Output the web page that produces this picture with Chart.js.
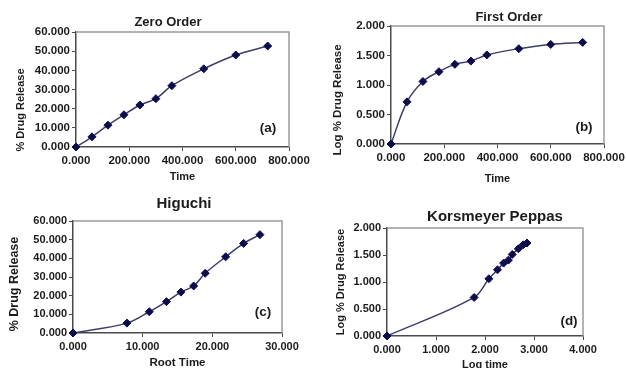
<!DOCTYPE html>
<html>
<head>
<meta charset="utf-8">
<title>Release kinetics</title>
<script src="https://cdn.jsdelivr.net/npm/chart.js@4.4.1/dist/chart.umd.min.js"></script>
<style>
  html, body { margin: 0; padding: 0; background: #fff; }
  #sheet { position: relative; width: 626px; height: 368px; overflow: hidden; background: #fff; }
  #sheet canvas { position: absolute; }
</style>
</head>
<body>
<div id="sheet">
  <canvas id="zero-chart" width="310" height="185" style="left:0;top:0"></canvas>
  <canvas id="first-chart" width="316" height="185" style="left:310px;top:0"></canvas>
  <canvas id="higuchi-chart" width="310" height="183" style="left:0;top:185px"></canvas>
  <canvas id="peppas-chart" width="316" height="183" style="left:310px;top:185px"></canvas>
</div>
<script>
// sampling times (min) and the transforms used by each model
const timeMin = [0, 60, 120, 180, 240, 300, 360, 480, 600, 720];
const rootTime = [0, 7.746, 10.954, 13.416, 15.492, 17.321, 18.974, 21.909, 24.495, 26.833];
const logTime = [0, 1.778, 2.079, 2.255, 2.380, 2.477, 2.556, 2.681, 2.778, 2.857];

// cumulative release
const drugRelease = [0, 5.3, 11.4, 16.8, 21.9, 25.2, 32.0, 40.8, 48.0, 52.7];
const logRelease = [0, 0.714, 1.060, 1.226, 1.350, 1.405, 1.510, 1.615, 1.688, 1.722];

// axis ticks
const timeTicks = [0, 200, 400, 600, 800];
const rootTicks = [0, 10, 20, 30];
const logTimeTicks = [0, 1, 2, 3, 4];
const releaseTicks = [0, 10, 20, 30, 40, 50, 60];
const logReleaseTicks = [0, 0.5, 1, 1.5, 2];

const FONT = '"Liberation Sans", Arial, sans-serif';
const INK = "#1c1c1c";
const AXIS = "#4a4a4a";
const FRAME = "#9a9a9a";

// title, y-axis title and panel letter, plus the grey top/right edge of the plot box
const panelText = {
  id: "panelText",
  beforeDatasetsDraw(chart) {
    const { ctx, chartArea: a } = chart;
    ctx.save();
    ctx.strokeStyle = FRAME;
    ctx.lineWidth = 1.5;
    ctx.beginPath();
    ctx.moveTo(a.left, a.top);
    ctx.lineTo(a.right, a.top);
    ctx.lineTo(a.right, a.bottom);
    ctx.stroke();
    ctx.restore();
  },
  afterDraw(chart, args, opts) {
    const { ctx } = chart;
    ctx.save();
    ctx.fillStyle = INK;
    ctx.textAlign = "center";
    ctx.textBaseline = "middle";

    ctx.font = `bold ${opts.titleSize}px ${FONT}`;
    ctx.fillText(opts.title, opts.titleAt[0], opts.titleAt[1]);

    ctx.font = `bold 13.5px ${FONT}`;
    ctx.fillText(opts.tag, opts.tagAt[0], opts.tagAt[1]);

    ctx.translate(opts.yTitleAt[0], opts.yTitleAt[1]);
    ctx.rotate(-Math.PI / 2);
    ctx.font = `bold ${opts.yTitleSize}px ${FONT}`;
    ctx.fillText(opts.yTitle, 0, 0);
    ctx.restore();
  },
};

function linearAxis(tickValues, tickSize, pad) {
  return {
    type: "linear",
    min: tickValues[0],
    max: tickValues[tickValues.length - 1],
    afterBuildTicks: (scale) => {
      scale.ticks = tickValues.map((value) => ({ value }));
    },
    ticks: {
      callback: (value) => value.toFixed(3),
      font: { family: FONT, size: tickSize, weight: "bold" },
      color: INK,
      padding: pad,
      maxRotation: 0,
      autoSkip: false,
    },
    grid: { drawOnChartArea: false, drawTicks: true, tickLength: 4, tickColor: AXIS },
    border: { display: true, color: AXIS, width: 1.5 },
  };
}

function buildPanel(id, p) {
  const canvas = document.getElementById(id);
  const xAxis = linearAxis(p.xTicks, p.tickSize, 3);
  xAxis.title = {
    display: true,
    text: p.xTitle,
    color: INK,
    font: { family: FONT, size: p.xTitleSize, weight: "bold" },
    padding: { top: 0, bottom: p.xTitlePad },
  };
  xAxis.afterFit = (scale) => {
    scale.height = canvas.height - p.plot.bottom;
    scale.paddingLeft = 0;
    scale.paddingRight = 0;
  };
  const yAxis = linearAxis(p.yTicks, p.tickSize, 2);
  yAxis.afterFit = (scale) => {
    scale.width = p.plot.left;
    scale.paddingTop = 0;
    scale.paddingBottom = 0;
  };

  return new Chart(canvas, {
    type: "scatter",
    data: {
      datasets: [
        {
          data: p.xs.map((x, i) => ({ x, y: p.ys[i] })),
          showLine: true,
          tension: 0.35,
          borderColor: "#3d3d6b",
          borderWidth: 1.5,
          pointStyle: "rectRot",
          pointRadius: 4,
          pointBackgroundColor: "#0d0d4d",
          pointBorderColor: "#0d0d4d",
          pointBorderWidth: 1,
          clip: false,
        },
      ],
    },
    options: {
      responsive: false,
      animation: false,
      events: [],
      layout: {
        padding: { left: 0, top: p.plot.top, right: canvas.width - p.plot.right, bottom: 0 },
      },
      scales: { x: xAxis, y: yAxis },
      plugins: {
        legend: { display: false },
        tooltip: { enabled: false },
        panelText: p.text,
      },
    },
    plugins: [panelText],
  });
}

buildPanel("zero-chart", {
  xs: timeMin,
  ys: drugRelease,
  xTicks: timeTicks,
  yTicks: releaseTicks,
  tickSize: 11.5,
  xTitle: "Time",
  xTitleSize: 11,
  xTitlePad: 1.5,
  plot: { left: 76, right: 289, top: 32, bottom: 147 },
  text: {
    title: "Zero Order", titleSize: 13, titleAt: [168, 22],
    yTitle: "% Drug Release", yTitleSize: 11, yTitleAt: [21, 110],
    tag: "(a)", tagAt: [268, 128],
  },
});

buildPanel("first-chart", {
  xs: timeMin,
  ys: logRelease,
  xTicks: timeTicks,
  yTicks: logReleaseTicks,
  tickSize: 11.5,
  xTitle: "Time",
  xTitleSize: 11,
  xTitlePad: -0.5,
  plot: { left: 81, right: 294, top: 26, bottom: 144 },
  text: {
    title: "First Order", titleSize: 13, titleAt: [199, 17],
    yTitle: "Log % Drug Release", yTitleSize: 11.5, yTitleAt: [28, 100],
    tag: "(b)", tagAt: [274, 127],
  },
});

buildPanel("higuchi-chart", {
  xs: rootTime,
  ys: drugRelease,
  xTicks: rootTicks,
  yTicks: releaseTicks,
  tickSize: 11,
  xTitle: "Root Time",
  xTitleSize: 11.5,
  xTitlePad: -1.5,
  plot: { left: 73, right: 282, top: 36, bottom: 148 },
  text: {
    title: "Higuchi", titleSize: 15, titleAt: [184, 19],
    yTitle: "% Drug Release", yTitleSize: 12.5, yTitleAt: [15, 99],
    tag: "(c)", tagAt: [263, 127],
  },
});

buildPanel("peppas-chart", {
  xs: logTime,
  ys: logRelease,
  xTicks: logTimeTicks,
  yTicks: logReleaseTicks,
  tickSize: 11,
  xTitle: "Log time",
  xTitleSize: 11,
  xTitlePad: -3.5,
  plot: { left: 77, right: 273, top: 43, bottom: 151 },
  text: {
    title: "Korsmeyer Peppas", titleSize: 15, titleAt: [185, 32],
    yTitle: "Log % Drug Release", yTitleSize: 11, yTitleAt: [31, 97],
    tag: "(d)", tagAt: [259, 136],
  },
});
</script>
</body>
</html>
